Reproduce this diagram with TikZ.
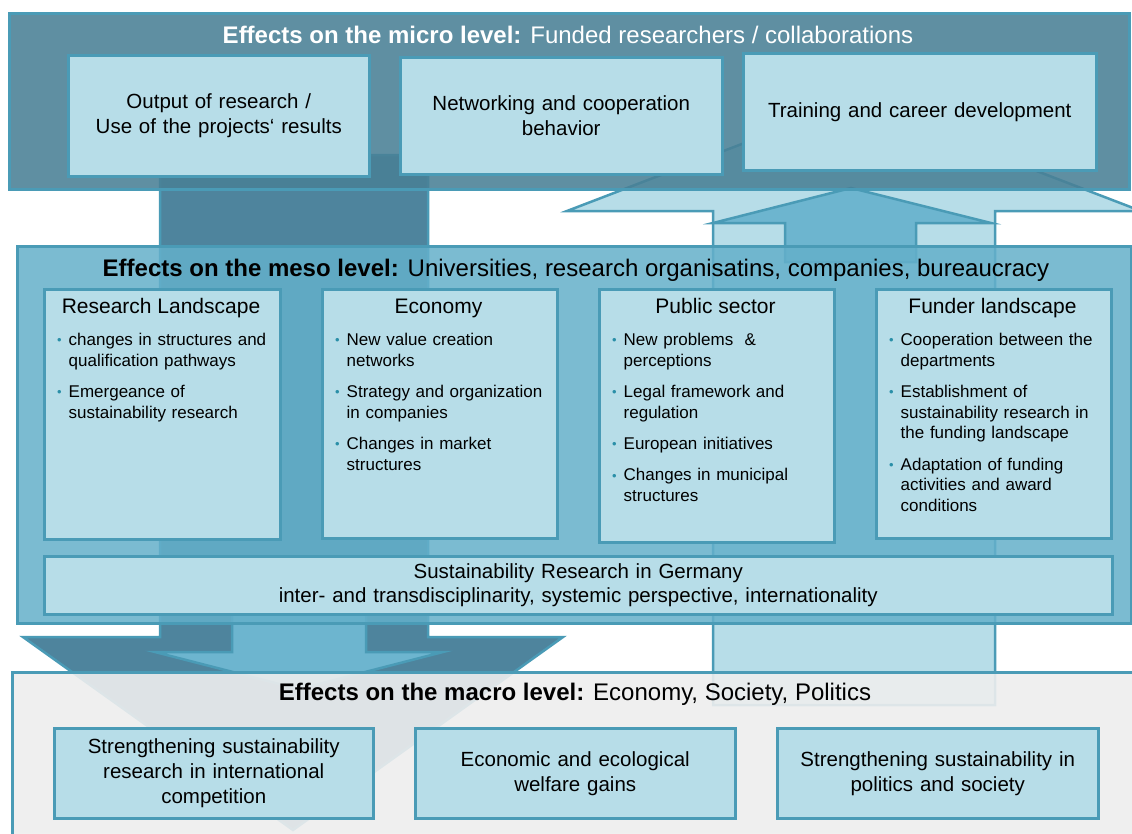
\documentclass[tikz,border=0pt]{standalone}
\usepackage{fontspec}
\setmainfont{Liberation Sans}
\usetikzlibrary{calc}
\definecolor{microF}{HTML}{498096}
\definecolor{mesoF}{HTML}{64B0CA}
\definecolor{macroF}{HTML}{EEEEEE}
\definecolor{innerc}{HTML}{B7DDE8}
\definecolor{edgec}{HTML}{4A9BB6}
\definecolor{darkarr}{HTML}{4E849D}
\definecolor{medarr}{HTML}{6DB5CF}
\definecolor{lightarr}{HTML}{B7DDE8}
\definecolor{bulc}{HTML}{2A8FA8}
\newcommand\bitem[1]{\par\hangindent=11.5pt\hangafter=1\noindent\hbox to 11.5pt{\raisebox{0.5pt}{\textcolor{bulc}{\fontsize{13}{13}\selectfont\textbullet}}\hss}#1\par}
\newcommand\bgap{\vspace{10.4pt}}
\tikzset{
  arr/.style={draw=edgec, line width=2.5pt, line join=miter},
  lvl/.style={draw=edgec, line width=2.5pt, anchor=north west, inner sep=0pt},
  ttl/.style={anchor=base, inner sep=0pt, font=\fontsize{24}{28}\selectfont},
  ibox/.style={draw=edgec, line width=2.5pt, fill=innerc, anchor=north west, align=center, inner sep=0pt, font=\fontsize{20.5}{25}\selectfont},
  colhead/.style={anchor=base, inner sep=0pt, font=\fontsize{21}{24}\selectfont},
  bulls/.style={anchor=base west, inner sep=0pt, font=\fontsize{17}{20.8}\selectfont}
}
\begin{document}
\begin{tikzpicture}[x=1pt,y=-1pt]
\useasboundingbox (0,0) rectangle (1132,833);
\fill[white] (0,0) rectangle (1132,833);

% block arrows
\draw[arr, fill=lightarr] (713,705) -- (713,211) -- (567,211) -- (854,101) -- (1141,211) -- (995,211) -- (995,705) -- cycle;
\draw[arr, fill=medarr] (785,262) -- (785,223) -- (713,223) -- (851,188) -- (991,223) -- (916,223) -- (916,262) -- cycle;
\draw[arr, fill=darkarr] (160,155) -- (428,155) -- (428,637) -- (563,637) -- (293,830) -- (23,637) -- (160,637) -- cycle;
\draw[arr, fill=medarr] (232,590) -- (366,590) -- (366,652) -- (443,652) -- (299,689) -- (155,652) -- (232,652) -- cycle;

% level boxes
\node[lvl, fill=microF, fill opacity=.88, minimum width=1120pt, minimum height=176pt] (micro) at (8,12) {};
\node[lvl, fill=mesoF, fill opacity=.85, minimum width=1114pt, minimum height=377pt] (meso) at (16,245) {};
\node[lvl, fill=macroF, fill opacity=.9, minimum width=1140pt, minimum height=180pt] (macro) at (11,671) {};

% titles
\node[ttl, text=white] (microt) at (568,43) {\textbf{Effects on the micro level:} Funded researchers / collaborations};
\node[ttl] (mesot) at (576,276) {\textbf{Effects on the meso level:} Universities, research organisatins, companies, bureaucracy};
\node[ttl] (macrot) at (575,700) {\textbf{Effects on the macro level:} Economy, Society, Politics};

% micro boxes
\node[ibox, minimum width=301pt, minimum height=121pt, text width=290pt] (m1) at (67,54) {Output of research /\\Use of the projects‘ results};
\node[ibox, minimum width=322pt, minimum height=117pt, text width=310pt] (m2) at (399,56) {Networking and cooperation\\behavior};
\node[ibox, minimum width=353pt, minimum height=117pt, text width=340pt] (m3) at (742,52) {Training and career development};

% meso columns
\node[ibox, minimum width=236pt, minimum height=250pt] (rl) at (43,288) {};
\node[ibox, minimum width=235pt, minimum height=249pt] (ec) at (321,288) {};
\node[ibox, minimum width=235pt, minimum height=253pt] (ps) at (598,288) {};
\node[ibox, minimum width=235pt, minimum height=249pt] (fl) at (875,288) {};

\node[colhead] (rlh) at (161,313) {Research Landscape};
\node[colhead] (ech) at (438.5,313) {Economy};
\node[colhead] (psh) at (715.5,313) {Public sector};
\node[colhead] (flh) at (992.5,313) {Funder landscape};

\node[bulls, text width=216pt] (rlb) at (57,324.5) {\raggedright
\bitem{changes in structures and\newline qualification pathways}\bgap
\bitem{Emergeance of\newline sustainability research}};
\node[bulls, text width=216pt] (ecb) at (335,324.5) {\raggedright
\bitem{New value creation\newline networks}\bgap
\bitem{Strategy and organization\newline in companies}\bgap
\bitem{Changes in market\newline structures}};
\node[bulls, text width=216pt] (psb) at (612,324.5) {\raggedright
\bitem{New problems \ \&\newline perceptions}\bgap
\bitem{Legal framework and\newline regulation}\bgap
\bitem{European initiatives}\bgap
\bitem{Changes in municipal\newline structures}};
\node[bulls, text width=216pt] (flb) at (889,324.5) {\raggedright
\bitem{Cooperation between the\newline departments}\bgap
\bitem{Establishment of\newline sustainability research in\newline the funding landscape}\bgap
\bitem{Adaptation of funding\newline activities and award\newline conditions}};

% sustainability band
\node[ibox, minimum width=1068pt, minimum height=58pt, text width=1050pt, font=\fontsize{20.5}{24}\selectfont] (sust) at (43,555) {Sustainability Research in Germany\\inter- and transdisciplinarity, systemic perspective, internationality};

% macro boxes
\node[ibox, minimum width=319pt, minimum height=90pt, text width=305pt] (a1) at (53,727) {Strengthening sustainability\\research in international\\competition};
\node[ibox, minimum width=320pt, minimum height=90pt, text width=305pt] (a2) at (414,727) {Economic and ecological\\welfare gains};
\node[ibox, minimum width=321pt, minimum height=90pt, text width=305pt] (a3) at (776,727) {Strengthening sustainability in\\politics and society};
\end{tikzpicture}
\end{document}
